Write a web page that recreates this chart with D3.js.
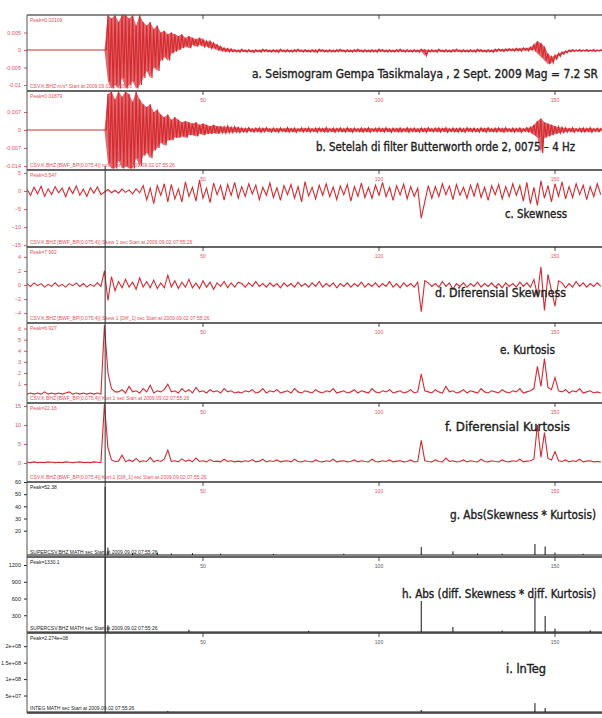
<!DOCTYPE html>
<html>
<head>
<meta charset="utf-8">
<script src="https://cdn.jsdelivr.net/npm/d3@7/dist/d3.min.js"></script>
<style>
  body { margin: 0; background: #fff; }
  svg { display: block; }
  .ttl { font-family: "DejaVu Sans Condensed", "Liberation Sans Narrow", "Liberation Sans", sans-serif; font-weight: normal; fill: #1e1e1e; stroke: #1e1e1e; stroke-width: 0.35px; }
  .tiny { font-family: "Liberation Sans", sans-serif; font-size: 5px; }
</style>
</head>
<body>
<svg id="chart" width="602" height="718"></svg>
<script>
// time axis (seconds), one sample per second
const dt = 1;
const timeTicks = [50, 100, 150];
const eventTime = 22.2;

// a. raw seismogram, envelope per second (x 0.001)
const aHi = [0,0,0,0,0,0,0,0,0,0,0,0,0,0,0,0,0,0,0,0,0,0,0,
  10,9,10,8,10,10,9,10,7,10,8, 7,8,6,7, 5,5.5,4.5,5, 4.5,4,4.5,3.5,4, 3.5,3,3.5,3,2.5,2.5, 2,1.5,1,0.6,0.4,0.3,
  0.1,0,0.2,0,0.1,-0.1,0.1,0,0.2,0.1, 0,0.1,0,0.2,0,0.1,0,0.1,0.2,0, 0.1,0,0.1,0,0.2,0.1,0,0.1,0,0.1,
  0.2,0,0.1,0,0.1,0.2,0,0.1,0,0.1, 0,0.2,0.1,0,0.1,0,0.1,0.2,0,0.1, 0,0.1,0,0.2,0.1,0,0.1,0,0.2,0,
  0.1,0,0.1,0.2,0,0.1,0,0.1,0,0.2, 0.1,0,0.1,0,0.2,0.3,0.2,0.3,0.4,0.3, 0.5,0.4,0.6,0.5,0.8,
  1.5,2.5,2,1, -1,-2,-1.5,-1,-0.6,-0.3,0, 0.1,0,0.1,0,0.1,0,0.1,0,0.1];
const aLo = [0,0,0,0,0,0,0,0,0,0,0,0,0,0,0,0,0,0,0,0,0,0,0,
  -9,-11,-10,-11,-8,-11,-10,-9,-11,-10,-8, -6,-8,-5,-6, -3,-2,-3,-1, -0.5,0,0.5,1,0.5, 1.5,1,1.5,1,1,0.5, 0.5,0,-0.2,-0.4,-0.5,-0.5,
  -0.5,-0.6,-0.4,-0.6,-0.5,-0.7,-0.5,-0.6,-0.4,-0.5, -0.6,-0.5,-0.7,-0.4,-0.6,-0.5,-0.6,-0.5,-0.4,-0.6,
  -0.5,-0.6,-0.5,-0.7,-0.4,-0.5,-0.6,-0.5,-0.6,-0.5, -0.4,-0.6,-0.5,-0.6,-0.5,-0.4,-0.6,-0.5,-0.6,-0.5,
  -0.6,-0.4,-0.5,-0.6,-0.5,-0.6,-0.5,-0.4,-0.6,-0.5, -0.6,-0.5,-0.6,-0.4,-1.6,-0.6,-0.5,-0.6,-0.4,-0.6,
  -0.5,-0.6,-0.5,-0.4,-0.6,-0.5,-0.6,-0.5,-0.6,-0.4, -0.5,-0.6,-0.5,-0.6,-0.4,-0.3,-0.4,-0.3,-0.2,-0.3,
  -0.2,-0.3,-0.1,-0.2,0,
  0,-1,-2,-3, -4,-3.6,-2.6,-1.8,-1.2,-0.8,-0.5, -0.4,-0.3,-0.4,-0.3,-0.4,-0.3,-0.4,-0.3,-0.3];

// b. Butterworth filtered, envelope per second (x 0.001)
const bHi = [0,0,0,0,0,0,0,0,0,0,0,0,0,0,0,0,0,0,0,0,0,0,0,
  14,15,12,15,13,15,14,11,15,12,10,9,10,7,8, 6,5,6,4,5, 4,3,3.5,3,2.5,3,2,2.5, 2,1.5,2,1.5,1.5,1.2,1.5,1,1.2,1,
  0.8,0.6,0.9,0.5,0.7,0.8,0.6,0.9,0.5,0.7, 0.6,0.8,0.5,0.9,0.6,0.7,0.5,0.8,0.6,0.9, 0.5,0.7,0.8,0.6,0.9,0.5,0.7,0.6,0.8,0.5,
  0.9,0.6,0.7,0.5,0.8,0.6,0.9,0.5,0.7,0.8, 0.6,0.9,0.5,0.7,0.6,0.8,0.5,0.9,0.6,0.7, 0.5,0.8,0.6,0.9,0.5,0.7,0.8,0.6,0.9,0.5,
  0.7,0.6,0.8,0.5,0.9,0.6,0.7,0.5,0.8,0.6, 0.9,0.5,0.7,0.8,0.6,0.9,0.5,0.7,0.6,0.8, 0.5,0.9,1.0,
  2,3.5,4.5,3,2.5,2,1.5,1.2,1, 0.8,0.6,0.9,0.5,0.7,0.8,0.6,0.9,0.5,0.7,0.6];
const bLo = [0,0,0,0,0,0,0,0,0,0,0,0,0,0,0,0,0,0,0,0,0,0,0,
  -13,-15,-15,-12,-15,-14,-15,-15,-11,-14,-10,-9,-11,-8,-7, -5,-6,-4,-4,-3, -3,-2.5,-3,-2,-2,-2.5,-1.5,-2, -1.5,-1.5,-1.2,-1.5,-1,-1.2,-1,-1,-0.8,-1,
  -0.7,-0.9,-0.5,-0.8,-0.6,-0.9,-0.7,-0.5,-0.8,-0.6, -0.9,-0.5,-0.7,-0.8,-0.6,-0.9,-0.5,-0.7,-0.6,-0.8, -0.5,-0.9,-0.6,-0.7,-0.8,-0.5,-0.9,-0.6,-0.7,-0.8,
  -0.6,-0.9,-0.5,-0.7,-0.8,-0.6,-0.9,-0.5,-0.7,-0.6, -0.8,-0.5,-0.9,-0.6,-0.7,-0.8,-0.5,-0.9,-0.6,-0.7, -0.8,-0.6,-0.9,-0.5,-0.7,-0.6,-0.8,-0.5,-0.9,-0.6,
  -0.7,-0.8,-0.6,-0.9,-0.5,-0.7,-0.6,-0.8,-0.5,-0.9, -0.6,-0.7,-0.8,-0.5,-0.9,-0.6,-0.7,-0.8,-0.6,-0.9, -0.5,-0.7,-1.0,
  -2,-3,-9,-3,-2.5,-2,-1.5,-1.2,-1, -0.8,-0.6,-0.9,-0.5,-0.7,-0.8,-0.6,-0.9,-0.5,-0.7,-0.6];

// c. skewness
const cVals = [0.5,-1.2,1.0,-0.8,1.3,-1.5,0.6,-1.0,1.2,-0.5, 0.8,-1.6,1.0,-0.7,1.4,-1.2,0.5,-1.5,0.9,-0.6,
  1.1,-1.0,-0.3,0.4,-0.5,0.2,-0.6,0.5,-0.4,0.3, -0.8,0.6,-0.5,1.5,-2.5,0.8,-3.5,1.5,-1.2,2.0,
  -3.0,1.8,-2.2,0.5,-3.0,2.5,-1.5,1.0,-2.8,3.0, -2.0,0.8,-3.2,2.2,-1.0,1.5,-2.5,1.8,-1.2,2.4,
  -2.0,1.2,-1.5,2.0,-0.8,1.6,-2.4,1.0,-1.2,2.2, -1.8,0.9,-2.6,1.5,-1.0,1.8,-2.0,1.2,-3.0,2.6,
  -1.4,1.0,-2.2,1.6,-1.2,2.0,-1.6,1.1,-2.4,1.4, -1.0,1.8,-2.8,1.2,-1.5,2.2,-1.8,1.0,-2.0,1.6,
  -1.2,2.4,-1.6,1.0,-2.6,1.4,-1.1,1.9,-2.2,1.2, -1.5,0.8,-7.5,-3.0,1.5,-2.0,1.2,-1.6,2.0,-1.0,
  1.4,-2.4,1.8,-1.2,1.0,-2.0,1.6,-1.4,2.2,-1.8, 1.0,-2.6,1.4,-1.0,1.8,-2.2,1.2,-1.6,2.0,-1.2,
  1.5,-2.8,2.4,-3.5,1.0,-4.0,2.8,-2.0,1.5,-3.0, 2.0,-1.5,2.5,-2.2,1.2,-1.8,2.0,-1.0,1.6,-2.4,
  1.2,-1.6,2.0,-1.0];

// d. differential skewness
const dVals = [0.2,-0.2,0.3,-0.1,0.2,-0.3,0.1,-0.2,0.3,-0.2,0.1,-0.3,0.2,-0.1,0.3,-0.2,0.2,-0.3,0.1,-0.2,0.3,-0.2,
  2.0,-2.2,1.2,-0.8,
  0.5,-0.4,0.8,-0.3,0.4,-0.6,1.0,-0.3,0.5,-0.4,0.7,-0.5,0.3,-0.4,1.4,-0.3,0.6,-0.5,0.4,-0.3,0.8,-0.4,0.3,-0.5,0.6,-0.3,0.4,-0.6,0.3,-0.2,0.5,-0.4,0.3,-0.3,0.4,
  0.2,-0.3,0.3,-0.2,0.5,-0.2,0.2,-0.3,0.3,-0.2, 0.2,-0.4,0.3,-0.2,0.2,-0.3,0.4,-0.2,0.2,-0.3,
  0.3,-0.2,0.5,-0.3,0.2,-0.2,0.3,-0.4,0.2,-0.2, 0.3,-0.3,0.2,-0.2,0.4,-0.3,0.2,-0.2,0.3,-0.3,
  0.2,-0.2,0.5,-0.3,0.2,-0.4,0.3,-0.2,0.2,-0.3,
  0.4,-3.8,0.6,
  0.3,-0.2,0.2,-0.3,0.5,-0.2,0.3,-0.6,0.2,-0.2, 0.3,-0.3,0.2,-0.2,0.4,-0.3,0.2,-0.2,0.3,-0.3, 0.2,-0.4,0.3,-0.2,0.2,-0.3,0.4,-0.2,0.3,-0.3,
  0.8,-1.5,2.6,-3.6,1.5,-0.8,-3.0,0.6,
  0.3,-0.4,0.2,-0.3,0.5,-0.2,0.3,-0.3,0.2,-0.2,0.3,-0.2];

// e. kurtosis
const eVals = [0.1,0.2,0.1,0.2,0.1,0.3,0.1,0.2,0.1,0.2,0.1,0.2,0.3,0.1,0.2,0.1,0.2,0.1,0.2,0.1,0.2,0.1,
  6.3,2.0,0.6,0.3,
  0.3,0.5,0.2,0.8,0.3,0.4,0.2,0.6,0.3,0.9,0.2,0.4,0.3,0.5,1.0,0.3,0.4,0.2,0.6,0.3,0.5,0.2,0.7,0.3,0.4,0.2,0.5,0.3,0.4,0.2,0.6,0.3,0.4,0.2,0.3,
  0.2,0.4,0.3,0.5,0.2,0.3,0.6,0.2,0.4,0.3, 0.5,0.2,0.3,0.4,0.2,0.6,0.3,0.2,0.4,0.3, 0.2,0.5,0.3,0.2,0.4,0.3,0.6,0.2,0.3,0.4,
  0.2,0.3,0.5,0.2,0.4,0.3,0.2,0.6,0.3,0.2, 0.4,0.3,0.5,0.2,0.3,0.4,0.2,0.3,0.5,0.2,
  0.3,1.9,0.4,
  0.3,0.2,0.5,0.3,0.2,0.8,0.3,0.4,0.2,0.3, 0.5,0.2,0.4,0.3,0.2,0.6,0.3,0.2,0.4,0.3, 0.2,0.5,0.3,0.2,0.4,0.3,0.6,0.2,0.3,0.4,
  0.6,2.6,0.8,3.3,0.7,0.5,1.6,0.4,
  0.3,0.5,0.2,0.4,0.3,0.6,0.2,0.3,0.4,0.2,0.3,0.2];

// f. differential kurtosis
const fVals = [0.2,0.1,0.3,0.1,0.2,0.1,0.3,0.2,0.1,0.2,0.1,0.3,0.2,0.1,0.2,0.3,0.1,0.2,0.1,0.3,0.2,0.1,
  15.5,4.0,0.8,0.4,
  0.5,2.1,0.3,0.8,0.4,1.2,0.3,0.6,0.4,1.5,0.3,0.7,0.4,1.0,3.4,0.4,0.6,0.3,1.1,0.4,0.8,0.3,1.3,0.4,0.6,0.3,0.9,0.4,0.5,0.3,1.0,0.4,0.6,0.3,0.5,
  0.3,0.6,0.4,0.9,0.3,0.5,1.0,0.3,0.6,0.4, 0.8,0.3,0.5,0.6,0.3,1.0,0.4,0.3,0.6,0.4, 0.3,0.8,0.4,0.3,0.6,0.4,1.0,0.3,0.5,0.6,
  0.3,0.4,0.8,0.3,0.6,0.4,0.3,1.0,0.4,0.3, 0.6,0.4,0.8,0.3,0.5,0.6,0.3,0.4,0.8,0.3,
  0.4,6.0,0.6,
  0.4,0.3,0.8,0.4,0.3,1.3,0.4,0.6,0.3,0.4, 0.8,0.3,0.6,0.4,0.3,1.0,0.4,0.3,0.6,0.4, 0.3,0.8,0.4,0.3,0.6,0.4,1.0,0.3,0.5,0.6,
  1.0,10.0,1.5,8.0,1.2,0.8,3.0,0.6,
  0.4,0.8,0.3,0.6,0.4,1.0,0.3,0.5,0.6,0.3,0.4,0.3];

// g, h, i: spikes (time, value)
const gTimes = [22.2, 23, 30, 37, 41, 47, 55, 70, 90, 112, 121, 128, 135, 144.3, 147.2, 150, 158];
const gVals  = [56, 6, 1.5, 2, 1.2, 1.5, 1, 0.8, 1, 6.5, 3, 1.2, 1, 9, 7, 2, 1];
const hTimes = [22.2, 23, 46, 80, 112, 121, 135, 144.3, 147.2, 150, 160];
const hVals  = [1340, 120, 40, 20, 555, 90, 25, 610, 287, 60, 30];
const iTimes = [40, 112, 144.3, 147.2];
const iVals  = [0.3, 0.6, 2.7, 1.2]; // x 1e7

const peakLabels = ["Peak=0.02109", "Peak=0.01879", "Peak=3.547", "Peak=7.902", "Peak=6.927",
  "Peak=22.16", "Peak=52.38", "Peak=1330.1", "Peak=2.274e+08"];
const stationLabels = [
  "CSV.K.BHZ  m/s*  Start at 2009.09.02 07:55:26",
  "CSV.K.BHZ  [BWF_BP(0.075,4)] m/s  Start at 2009.09.02 07:55:26",
  "CSV.K.BHZ  [BWF_BP(0.075,4)]  Skew  1  sec  Start at 2009.09.02 07:55:26",
  "CSV.K.BHZ  [BWF_BP(0.075,4)]  Skew  1  [Diff_1]  sec  Start at 2009.09.02 07:55:26",
  "CSV.K.BHZ  [BWF_BP(0.075,4)]  Kurt  1  sec  Start at 2009.09.02 07:55:26",
  "CSV.K.BHZ  [BWF_BP(0.075,4)]  Kurt  1  [Diff_1]  sec  Start at 2009.09.02 07:55:26",
  "SUPERCSV.BHZ  MATH  sec  Start at 2009.09.02 07:55:26",
  "SUPERCSV.BHZ  MATH  sec  Start at 2009.09.02 07:55:26",
  "INTEG  MATH  sec  Start at 2009.09.02 07:55:26"];
const titles = [
  "a. Seismogram  Gempa Tasikmalaya , 2 Sept. 2009  Mag = 7.2 SR",
  "b. Setelah  di filter Butterworth orde 2, 0075 \u2013 4 Hz",
  "c. Skewness",
  "d. Diferensial Skewness",
  "e. Kurtosis",
  "f. Diferensial Kurtosis",
  "g. Abs(Skewness * Kurtosis)",
  "h. Abs (diff. Skewness * diff. Kurtosis)",
  "i. lnTeg"];
const yTickVals = [[5, 0, -5, -10], [7, 0, -7, -14], [5, 0, -5, -10, -15], [4, 2, 0, -2, -4],
  [1, 2, 3, 4, 5, 6], [0, 5, 10, 15], [20, 30, 40, 50, 60], [300, 600, 900, 1200], [5, 10, 15, 20]];
const yTickLabels = [["0.005", "0", "-0.005", "-0.01"], ["0.007", "0", "-0.007", "-0.014"],
  null, null, null, null, null, null, ["5e+07", "1e+08", "1.5e+08", "2e+08"]];

// layout
const W = 602, H = 718;
const left = 27;
const edges = [15, 91, 170, 247, 323, 403, 482, 557, 633, 713];
const red = "#d42a30", pink = "#e4505a", dark = "#222";

const panels = [
  { kind: "env", hi: aHi, lo: aLo, domain: [-11.7, 10], color: red, tcolor: pink, title: [252, 78, 346] },
  { kind: "env", hi: bHi, lo: bLo, domain: [-15.6, 15.2], color: red, tcolor: pink, title: [316, 151, 259] },
  { kind: "line", vals: cVals, domain: [-15.5, 5.8], color: red, tcolor: pink, title: [505, 218, 62] },
  { kind: "line", vals: dVals, domain: [-5.4, 5.4], color: red, tcolor: pink, title: [435, 297, 131] },
  { kind: "line", vals: eVals, domain: [-0.7, 6.5], color: red, tcolor: pink, title: [500, 354, 55] },
  { kind: "line", vals: fVals, domain: [-5, 15.8], color: red, tcolor: pink, title: [445, 431, 125] },
  { kind: "stem", times: gTimes, vals: gVals, domain: [0, 60], color: "#111", tcolor: "#222", title: [450, 519, 146] },
  { kind: "stem", times: hTimes, vals: hVals, domain: [0, 1344], color: "#111", tcolor: "#222", title: [402, 598, 194] },
  { kind: "stem", times: iTimes, vals: iVals, domain: [0, 24], color: "#111", tcolor: "#222", title: [506, 673, 40] }
];

const svg = d3.select("#chart");
const x = d3.scaleLinear().domain([0, 163.35]).range([left, W]);

svg.append("line")
  .attr("x1", left).attr("x2", W).attr("y1", edges[0]).attr("y2", edges[0])
  .attr("stroke", "#8a8a8a").attr("stroke-width", 2);

panels.forEach((p, k) => {
  const top = edges[k], bot = edges[k + 1];
  let yr = [bot, top];
  if (p.kind === "stem") yr = [bot - (k === 6 ? 2 : 1), top];
  const y = d3.scaleLinear().domain(p.domain).range(yr);
  const g = svg.append("g");

  const clipId = `clip${k}`;
  svg.append("clipPath").attr("id", clipId)
    .append("rect").attr("x", left).attr("y", top).attr("width", W - left).attr("height", bot - top);
  const plot = g.append("g").attr("clip-path", `url(#${clipId})`);

  if (p.kind === "env") {
    // envelope band, then the wiggle through it
    plot.append("path")
      .attr("d", d3.area().x((d, i) => x(i * dt)).y0((d, i) => y(p.lo[i])).y1(d => y(d))(p.hi))
      .attr("fill", p.color).attr("opacity", 0.7);
    const pts = [];
    p.hi.forEach((v, i) => {
      pts.push([i * dt, v]);
      pts.push([i * dt + dt / 2, p.lo[i]]);
    });
    plot.append("path")
      .attr("d", d3.line().x(d => x(d[0])).y(d => y(d[1]))(pts))
      .attr("fill", "none").attr("stroke", p.color).attr("stroke-width", 1.2);
  } else if (p.kind === "line") {
    plot.append("path")
      .attr("d", d3.line().x((d, i) => x(i * dt)).y(d => y(d))(p.vals))
      .attr("fill", "none").attr("stroke", p.color).attr("stroke-width", 1.1);
  } else {
    plot.append("line")
      .attr("x1", left).attr("x2", W).attr("y1", y(0)).attr("y2", y(0))
      .attr("stroke", p.color).attr("stroke-width", 1.2);
    plot.selectAll(".stem").data(p.vals).enter()
      .append("line").attr("class", "stem")
      .attr("x1", (d, i) => x(p.times[i])).attr("x2", (d, i) => x(p.times[i]))
      .attr("y1", y(0)).attr("y2", d => y(d))
      .attr("stroke", p.color).attr("stroke-width", 1);
  }

  // y axis
  const labels = yTickLabels[k];
  const ax = g.append("g").attr("transform", `translate(${left},0)`)
    .call(d3.axisLeft(y).tickValues(yTickVals[k]).tickSize(3)
      .tickFormat((d, i) => labels ? labels[i] : d3.format("d")(d)));
  ax.select(".domain").remove();
  ax.selectAll("line").attr("stroke", p.tcolor);
  ax.selectAll("text").attr("fill", p.tcolor).attr("font-size", 5.5).attr("font-family", "Liberation Sans, sans-serif");

  // time ticks at top of panel
  const tt = g.append("g");
  tt.selectAll("line").data(timeTicks).enter().append("line")
    .attr("x1", d => x(d)).attr("x2", d => x(d)).attr("y1", top).attr("y2", top + 4)
    .attr("stroke", dark).attr("stroke-width", 0.8);
  if (k > 0) {
    tt.selectAll("text").data(timeTicks).enter().append("text")
      .attr("x", d => x(d)).attr("y", top + 11).attr("text-anchor", "middle")
      .attr("class", "tiny").attr("fill", k < 7 ? pink : "#555").text(d => d);
  }

  g.append("text").attr("class", "tiny").attr("x", left + 3).attr("y", top + 7)
    .attr("fill", p.tcolor).text(peakLabels[k]);
  g.append("text").attr("class", "tiny").attr("x", left + 3).attr("y", bot - 3)
    .attr("fill", p.tcolor).text(stationLabels[k]);

  g.append("text").attr("class", "ttl")
    .attr("x", p.title[0]).attr("y", p.title[1])
    .attr("textLength", p.title[2]).attr("lengthAdjust", "spacingAndGlyphs")
    .attr("font-size", 11.5).text(titles[k]);

  // separator below the panel
  svg.append("line")
    .attr("x1", left).attr("x2", W).attr("y1", bot).attr("y2", bot)
    .attr("stroke", "#333").attr("stroke-width", 1.6);
});

// left axis line
svg.append("line")
  .attr("x1", left).attr("x2", left).attr("y1", edges[0]).attr("y2", edges[9])
  .attr("stroke", "#555").attr("stroke-width", 1);

// event marker line through panels c..i
svg.append("line")
  .attr("x1", x(eventTime)).attr("x2", x(eventTime)).attr("y1", edges[1] + 75).attr("y2", edges[9])
  .attr("stroke", "#333").attr("stroke-width", 1);
</script>
</body>
</html>
